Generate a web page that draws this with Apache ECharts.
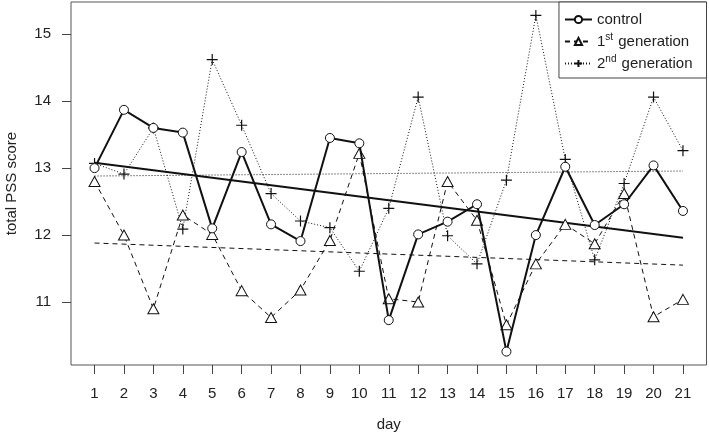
<!DOCTYPE html>
<html>
<head>
<meta charset="utf-8">
<script src="https://cdn.jsdelivr.net/npm/echarts@6/dist/echarts.min.js"></script>
<style>
html,body{margin:0;padding:0;background:#fff;}
#chart{width:709px;height:439px;}
</style>
</head>
<body>
<div id="chart"></div>
<script>
const days = [1,2,3,4,5,6,7,8,9,10,11,12,13,14,15,16,17,18,19,20,21];
const control = [13.00,13.87,13.60,13.53,12.10,13.24,12.16,11.91,13.45,13.37,10.73,12.01,12.20,12.46,10.26,12.00,13.02,12.15,12.46,13.04,12.36];
const gen1 = [12.80,12.00,10.90,12.30,12.01,11.17,10.77,11.18,11.92,13.22,11.05,11.00,12.80,12.22,10.66,11.57,12.16,11.87,12.62,10.78,11.04];
const gen2 = [13.07,12.91,13.60,12.09,14.62,13.64,12.62,12.21,12.11,11.46,12.40,14.06,11.99,11.57,12.82,15.28,13.13,11.63,12.77,14.06,13.26];
const yTicks = [11,12,13,14,15];
const names = ['control','1st generation','2nd generation'];

function pairs(ys){ return days.map((d,i)=>[d, ys[i]]); }
function trend(ys){
  const n = days.length;
  const mx = days.reduce((a,b)=>a+b,0)/n;
  const my = ys.reduce((a,b)=>a+b,0)/n;
  let sxy=0,sxx=0;
  for(let i=0;i<n;i++){ sxy+=(days[i]-mx)*(ys[i]-my); sxx+=(days[i]-mx)*(days[i]-mx); }
  const b = sxy/sxx, a = my - b*mx;
  const x0 = days[0], x1 = days[n-1];
  return [[x0, a+b*x0],[x1, a+b*x1]];
}

const ink = '#111';
const font = 'Liberation Sans, Arial, Helvetica, sans-serif';
const plus = 'path://M5,0L5,10M0,5L10,5';

const chart = echarts.init(document.getElementById('chart'), null, {renderer:'canvas'});
chart.setOption({
  animation:false,
  backgroundColor:'#fff',
  textStyle:{fontFamily:font},
  grid:{left:71, right:2.5, top:2, bottom:74, show:true, borderColor:'#555', borderWidth:1,
        backgroundColor:'transparent', containLabel:false, outerBoundsMode:'none'},
  xAxis:{
    type:'value', min:0.2, max:21.8,
    name:'day', nameLocation:'middle', nameGap:52,
    nameTextStyle:{fontSize:15, color:'#222', fontFamily:font},
    axisLine:{show:false},
    splitLine:{show:false},
    axisTick:{show:true, inside:false, length:9, lineStyle:{color:'#444'}, customValues:days},
    axisLabel:{fontSize:15, color:'#222', margin:21, customValues:days, fontFamily:font}
  },
  yAxis:{
    type:'value', min:10.06, max:15.48,
    name:'total PSS score', nameLocation:'middle', nameGap:52,
    nameTextStyle:{fontSize:15, color:'#222', fontFamily:font},
    axisLine:{show:false},
    splitLine:{show:false},
    axisTick:{show:true, inside:false, length:9, lineStyle:{color:'#444'}, customValues:yTicks},
    axisLabel:{fontSize:15, color:'#222', margin:20, customValues:yTicks, fontFamily:font}
  },
  legend:{
    data:names,
    orient:'vertical',
    right:2.5, top:2,
    backgroundColor:'#fff',
    borderColor:'#444', borderWidth:1,
    padding:[10,14,7,5],
    itemGap:5,
    itemWidth:27, itemHeight:9,
    textStyle:{fontSize:15, color:'#222', fontFamily:font, lineHeight:15,
      rich:{sup:{fontSize:10, color:'#222', padding:[0,1,9,0], fontFamily:font}}},
    formatter:function(n){ return n.replace(/^(\d)(st|nd)/, '$1{sup|$2}'); }
  },
  series:[
    {name:'control-trend', type:'line', data:trend(control), symbol:'none', silent:true,
     lineStyle:{color:ink, width:2, type:'solid'}, z:2},
    {name:'gen1-trend', type:'line', data:trend(gen1), symbol:'none', silent:true,
     lineStyle:{color:ink, width:1, type:[5,4]}, z:2},
    {name:'gen2-trend', type:'line', data:trend(gen2), symbol:'none', silent:true,
     lineStyle:{color:ink, width:1, type:[1,2]}, z:2},
    {name:names[0], type:'line', data:pairs(control), symbol:'circle', symbolSize:9,
     itemStyle:{color:'#fff', borderColor:ink, borderWidth:1}, lineStyle:{color:ink, width:2, type:'solid'}, z:5},
    {name:names[1], type:'line', data:pairs(gen1), symbol:'triangle', symbolSize:[11,10],
     itemStyle:{color:'#fff', borderColor:ink, borderWidth:1}, lineStyle:{color:ink, width:1, type:[5,4]}, z:4},
    {name:names[2], type:'line', data:pairs(gen2), symbol:plus, symbolSize:11,
     itemStyle:{color:'none', borderColor:ink, borderWidth:1.2}, lineStyle:{color:ink, width:1, type:[1,2]}, z:3}
  ]
});
</script>
</body>
</html>
